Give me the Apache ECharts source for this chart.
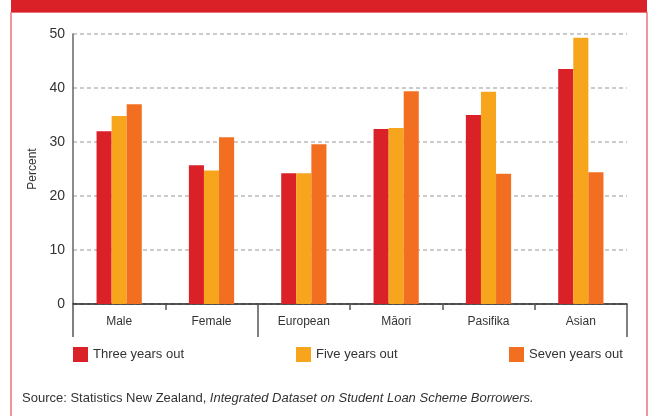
<!DOCTYPE html>
<html>
<head>
<meta charset="utf-8">
<script src="https://cdn.jsdelivr.net/npm/echarts@6/dist/echarts.min.js"></script>
<style>
  html, body { margin: 0; padding: 0; background: #fff; }
  #chart { width: 652px; height: 416px; }
</style>
</head>
<body>
<div id="chart"></div>
<script>
var categories = ['Male', 'Female', 'European', 'M\u0101ori', 'Pasifika', 'Asian'];
var threeYears = [32.0, 25.7, 24.2, 32.4, 35.0, 43.5];
var fiveYears = [34.8, 24.7, 24.2, 32.6, 39.3, 49.3];
var sevenYears = [37.0, 30.9, 29.6, 39.4, 24.1, 24.4];
var yTicks = [0, 10, 20, 30, 40, 50];
var groupBounds = [0, 2, 6];

var font = '"Liberation Sans", Arial, sans-serif';
var frameColor = '#e9737b';

var chart = echarts.init(document.getElementById('chart'), null, { renderer: 'canvas' });

function legendAt(left, name) {
  return {
    left: left,
    top: 347,
    padding: 0,
    itemWidth: 15,
    itemHeight: 15,
    itemGap: 8,
    icon: 'rect',
    selectedMode: false,
    data: [name],
    textStyle: { fontFamily: font, fontSize: 13, color: '#333' }
  };
}

var option = {
  animation: false,
  grid: { left: 73, right: 25, top: 34, bottom: 112, containLabel: false },
  legend: [
    legendAt(73, 'Three years out'),
    legendAt(296, 'Five years out'),
    legendAt(509, 'Seven years out')
  ],
  xAxis: [
    {
      type: 'category',
      data: categories,
      axisLine: { lineStyle: { color: '#222', width: 1.5 } },
      axisTick: { show: true, length: 6, lineStyle: { color: '#555', width: 1.5 } },
      axisLabel: { fontFamily: font, fontSize: 12, color: '#333', margin: 12 }
    },
    {
      type: 'value',
      position: 'bottom',
      min: 0,
      max: categories.length,
      axisLine: { show: false },
      splitLine: { show: false },
      axisLabel: { show: false },
      axisTick: {
        show: true,
        length: 33,
        customValues: groupBounds,
        lineStyle: { color: '#555', width: 1.5 }
      }
    }
  ],
  yAxis: {
    type: 'value',
    min: 0,
    max: 50,
    interval: 10,
    name: 'Percent',
    nameLocation: 'middle',
    nameGap: 32,
    nameTextStyle: { fontFamily: font, fontSize: 12, color: '#333' },
    axisLine: { show: true, lineStyle: { color: '#666', width: 1.5 } },
    axisTick: { show: false },
    axisLabel: { fontFamily: font, fontSize: 14, color: '#333', margin: 8,
      formatter: function (v) { return yTicks.indexOf(v) >= 0 ? String(v) : ''; } },
    splitLine: { show: true, lineStyle: { color: '#bbb', type: [4, 3], width: 1.5 } }
  },
  series: [
    { name: 'Three years out', type: 'bar', data: threeYears, itemStyle: { color: '#da2128' }, barGap: '0%', barCategoryGap: '51%' },
    { name: 'Five years out', type: 'bar', data: fiveYears, itemStyle: { color: '#f7a51d' } },
    { name: 'Seven years out', type: 'bar', data: sevenYears, itemStyle: { color: '#f26f22' } }
  ],
  graphic: [
    { type: 'rect', shape: { x: 11, y: 0, width: 636, height: 12 }, style: { fill: '#da2128' } },
    { type: 'line', shape: { x1: 11, y1: 12, x2: 11, y2: 416 }, style: { stroke: frameColor, lineWidth: 1.5 } },
    { type: 'line', shape: { x1: 647, y1: 12, x2: 647, y2: 416 }, style: { stroke: frameColor, lineWidth: 1.5 } },
    { type: 'line', shape: { x1: 11, y1: 12.5, x2: 647, y2: 12.5 }, style: { stroke: frameColor, lineWidth: 1 } },
    {
      type: 'text', left: 22, top: 392,
      style: {
        rich: { i: { fontStyle: 'italic', fontFamily: font, fontSize: 13, fill: '#333' } },
        text: 'Source: Statistics New Zealand, {i|Integrated Dataset on Student Loan Scheme Borrowers.}',
        fontFamily: font, fontSize: 13, fill: '#333'
      }
    }
  ]
};

chart.setOption(option);
window.addEventListener('resize', chart.resize);
</script>
</body>
</html>
